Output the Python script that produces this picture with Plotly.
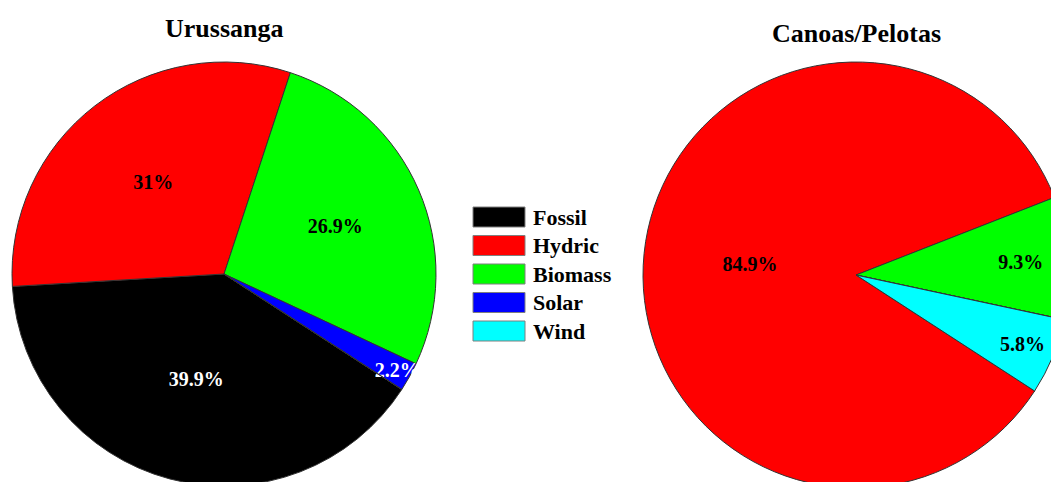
import plotly.graph_objects as go

# ---- data ----
categories = ["Fossil", "Hydric", "Biomass", "Solar", "Wind"]
colors = ["#000000", "#FF0000", "#00FF00", "#0000FF", "#00FFFF"]
urussanga_values = [39.9, 31.0, 26.9, 2.2, 0.0]
canoas_values = [0.0, 84.9, 9.3, 0.0, 5.8]
titles = ["Urussanga", "Canoas/Pelotas"]
text_colors = ["white", "black", "black", "white", "black"]

# ---- canvas (slightly larger than the window so the pies get clipped as in the reference) ----
W, H = 1080, 490
FONT = "Liberation Serif"


def px(x):
    return x / W


def py(y):
    return 1 - y / H


def labels_for(vals):
    return [("" if v == 0 else f"{v:g}%") for v in vals]


fig = go.Figure()

pies = [
    (urussanga_values, (224, 274), 212),
    (canoas_values, (856, 275), 213),
]
for vals, (cx, cy), r in pies:
    fig.add_trace(go.Pie(
        labels=categories,
        values=vals,
        text=labels_for(vals),
        textinfo="text",
        sort=False,
        direction="clockwise",
        rotation=123,
        marker=dict(colors=colors, line=dict(color="#333333", width=1)),
        textposition="inside",
        insidetextorientation="horizontal",
        insidetextfont=dict(family=FONT, size=20, color=text_colors, weight="bold"),
        domain=dict(x=[px(cx - r), px(cx + r)], y=[py(cy + r), py(cy - r)]),
        showlegend=False,
        hoverinfo="label+percent",
    ))

annotations = []
shapes = []
# titles
for t, (x, y) in zip(titles, [(224, 28), (856, 33)]):
    annotations.append(dict(text=f"<b>{t}</b>", x=px(x), y=py(y), xref="paper", yref="paper",
                            showarrow=False, font=dict(family=FONT, size=26, color="black"),
                            xanchor="center", yanchor="middle"))

# legend (boxes + labels built from categories/colors)
y0 = 217
step = 28.5
for i, (c, col) in enumerate(zip(categories, colors)):
    yc = y0 + i * step
    shapes.append(dict(type="rect", xref="paper", yref="paper",
                       x0=px(473), x1=px(525), y0=py(yc + 10), y1=py(yc - 10),
                       fillcolor=col, line=dict(color="#7f7f7f", width=1)))
    annotations.append(dict(text=f"<b>{c}</b>", x=px(531), y=py(yc), xref="paper", yref="paper",
                            showarrow=False, font=dict(family=FONT, size=22, color="black"),
                            xanchor="left", yanchor="middle"))

fig.update_layout(
    width=W, height=H,
    margin=dict(l=0, r=0, t=0, b=0),
    paper_bgcolor="white",
    plot_bgcolor="white",
    annotations=annotations,
    shapes=shapes,
    uniformtext=dict(minsize=20, mode="show"),
    showlegend=False,
)

fig.write_html(
    "out.html",
    post_script="document.body.style.margin='0';document.body.style.overflow='hidden';"
                "document.documentElement.style.overflow='hidden';",
)
